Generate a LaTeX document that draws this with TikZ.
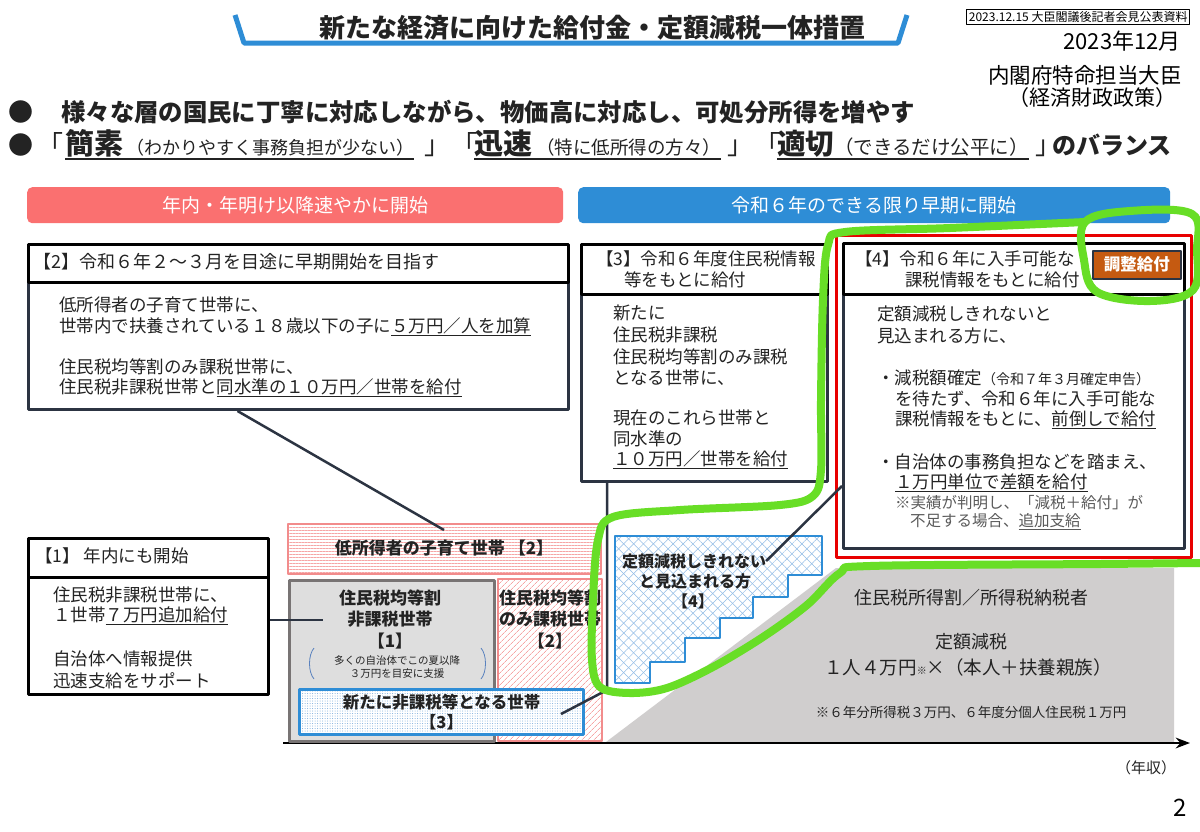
\documentclass[tikz,border=0pt]{standalone}
\usepackage{fontspec}
\setmainfont{Noto Sans CJK JP}
\usepackage{xcolor}
\usepackage{tikz}
\usetikzlibrary{arrows.meta,patterns.meta}
\definecolor{barblue}{RGB}{46,141,214}
\definecolor{barpink}{RGB}{250,112,112}
\definecolor{slate}{RGB}{44,52,66}
\definecolor{ink}{RGB}{35,35,35}
\definecolor{notegray}{RGB}{90,90,90}
\definecolor{pinkline}{RGB}{242,140,140}
\definecolor{pinkhatch}{RGB}{246,165,165}
\definecolor{fillgray}{RGB}{222,222,222}
\definecolor{edgegray}{RGB}{120,116,116}
\definecolor{areagray}{RGB}{208,206,206}
\definecolor{hatchblue}{RGB}{120,170,220}
\definecolor{stairblue}{RGB}{145,188,230}
\definecolor{bracketblue}{RGB}{90,130,190}
\definecolor{adjorange}{RGB}{197,90,17}
\definecolor{hlgreen}{RGB}{104,222,38}
\definecolor{framered}{RGB}{232,0,0}
\newcommand\jsz[1]{\fontsize{#1}{#1}\selectfont}

\begin{document}
\begin{tikzpicture}[x=1pt,y=-1pt,>=Stealth,line join=round,
  txt/.style={anchor=west,inner sep=0pt,text=ink,font=\jsz{17.5}},
  bal/.style={anchor=base west,inner sep=0pt,text=ink},
  headbox/.style={draw=black,line width=3pt,fill=white,anchor=north west},
  bodybox/.style={draw=slate,line width=3pt,fill=white,anchor=north west},
  bar/.style={rounded corners=5pt,text=white,anchor=north west,minimum height=36,font=\jsz{19}},
  link/.style={draw=slate,line width=2.5pt},
  uline/.style={draw=ink,line width=1.3pt},
  mid/.style={inner sep=0pt,text=ink,font=\jsz{17}\bfseries},
  marker/.style={draw=hlgreen,line width=8pt,line cap=round}]
  \fill[white] (0,0) rectangle (1200,831);
  \useasboundingbox (0,0) rectangle (1200,831);

  \draw[barblue,line width=5pt] (235,15) -- (244,43) -- (898,43) -- (907,15);
  \node[inner sep=0pt,text=ink,font=\jsz{26}\bfseries] (title) at (592,28) {新たな経済に向けた給付金・定額減税一体措置};
  \node[draw,line width=1pt,inner sep=2pt,anchor=north east,font=\jsz{12}] (pub) at (1190,9) {2023.12.15 大臣閣議後記者会見公表資料};
  \node[anchor=east,inner sep=0pt,font=\jsz{22}] (date) at (1181,41) {2023年12月};
  \node[anchor=east,inner sep=0pt,font=\jsz{21.5}] (minister) at (1182,75) {内閣府特命担当大臣};
  \node[anchor=east,inner sep=0pt,font=\jsz{21}] (office) at (1177,98) {（経済財政政策）};

  \node[txt,font=\jsz{25}] (dot1) at (8,112) {●};
  \node[txt,font=\jsz{24.4}\bfseries] (aim) at (61,112) {様々な層の国民に丁寧に対応しながら、物価高に対応し、可処分所得を増やす};
  \node[bal,font=\jsz{25}] (dot2) at (8,154) {●};
  \node[bal,font=\jsz{26}] (qa1) at (37,154) {「};
  \node[bal,font=\jsz{29}\bfseries] (simple) at (65,154) {簡素};
  \node[bal,font=\jsz{18}] (simplep) at (126,154) {（わかりやすく事務負担が少ない）};
  \node[bal,font=\jsz{26}] (qa2) at (424,154) {」};
  \node[bal,font=\jsz{26}] (qb1) at (451,154) {「};
  \node[bal,font=\jsz{29}\bfseries] (quick) at (474,154) {迅速};
  \node[bal,font=\jsz{18.5}] (quickp) at (536,154) {（特に低所得の方々）};
  \node[bal,font=\jsz{26}] (qb2) at (727,154) {」};
  \node[bal,font=\jsz{26}] (qc1) at (754,154) {「};
  \node[bal,font=\jsz{28.5}\bfseries] (fair) at (777,154) {適切};
  \node[bal,font=\jsz{19.5}] (fairp) at (834,154) {（できるだけ公平に）};
  \node[bal,font=\jsz{26}] (qc2) at (1035,154) {」};
  \node[bal,font=\jsz{24}\bfseries] (balance) at (1052,154) {のバランス};
  \draw[uline] ([yshift=-5pt]simple.base west) -- ([yshift=-5pt]simplep.base east);
  \draw[uline] ([yshift=-5pt]quick.base west) -- ([yshift=-5pt]quickp.base east);
  \draw[uline] ([yshift=-5pt]fair.base west) -- ([yshift=-5pt]fairp.base east);

  \node[bar,fill=barpink,minimum width=536] (barL) at (27,187) {年内・年明け以降速やかに開始};
  \node[bar,fill=barblue,minimum width=592] (barR) at (578,187) {令和６年のできる限り早期に開始};

  \node[bodybox,minimum width=540,minimum height=127] (b2) at (27,281) {};
  \node[headbox,minimum width=540,minimum height=38] (h2) at (27,243) {};
  \node[txt,font=\jsz{18}] (h2t) at (33,262) {【2】令和６年２～３月を目途に早期開始を目指す};
  \node[txt] (b2a) at (59,305) {低所得者の子育て世帯に、};
  \node[txt] (b2b) at (59,327) {世帯内で扶養されている１８歳以下の子に\underline{５万円／人を加算}};
  \node[txt] (b2c) at (59,367) {住民税均等割のみ課税世帯に、};
  \node[txt] (b2d) at (59,388) {住民税非課税世帯と\underline{同水準の１０万円／世帯を給付}};

  \node[bodybox,minimum width=246,minimum height=187] (b3) at (580,293) {};
  \node[headbox,minimum width=246,minimum height=50] (h3) at (580,243) {};
  \node[txt] (h3a) at (596,259) {【3】令和６年度住民税情報};
  \node[txt] (h3b) at (624,280) {等をもとに給付};
  \node[txt] (b3a) at (613,313) {新たに};
  \node[txt] (b3b) at (613,335) {住民税非課税};
  \node[txt] (b3c) at (613,357) {住民税均等割のみ課税};
  \node[txt] (b3d) at (613,378) {となる世帯に、};
  \node[txt] (b3e) at (613,418) {現在のこれら世帯と};
  \node[txt] (b3f) at (613,439) {同水準の};
  \node[txt] (b3g) at (613,460) {\underline{１０万円／世帯を給付}};

  \node[draw=framered,line width=2.5pt,minimum width=355,minimum height=322,anchor=north west] (f4) at (835,234) {};
  \node[bodybox,minimum width=341,minimum height=254] (b4) at (842,293) {};
  \node[headbox,minimum width=341,minimum height=51] (h4) at (842,242) {};
  \node[txt] (h4a) at (855,259) {【4】令和６年に入手可能な};
  \node[txt] (h4b) at (905,280) {課税情報をもとに給付};
  \node[fill=adjorange,draw=slate,line width=1.5pt,minimum width=88,minimum height=28,anchor=north west,text=white,font=\jsz{16.5}\bfseries] (adj) at (1092,250) {調整給付};
  \node[txt] (b4a) at (877,314) {定額減税しきれないと};
  \node[txt] (b4b) at (877,336) {見込まれる方に、};
  \node[txt] (b4c) at (877,378) {・減税額確定{\jsz{14}（令和７年３月確定申告）}};
  \node[txt] (b4d) at (895,399) {を待たず、令和６年に入手可能な};
  \node[txt] (b4e) at (895,420) {課税情報をもとに、\underline{前倒しで給付}};
  \node[txt] (b4f) at (877,462) {・自治体の事務負担などを踏まえ、};
  \node[txt] (b4g) at (895,483) {\underline{１万円単位で差額を給付}};
  \node[txt,text=notegray,font=\jsz{15.5}] (b4h) at (895,503) {※実績が判明し、「減税＋給付」が};
  \node[txt,text=notegray,font=\jsz{15.5}] (b4i) at (910,522) {不足する場合、\underline{追加支給}};

  \node[bodybox,draw=black,minimum width=240,minimum height=117] (b1) at (27,576) {};
  \node[headbox,minimum width=240,minimum height=39] (h1) at (27,537) {};
  \node[txt] (h1t) at (35,556) {【1】 年内にも開始};
  \node[txt] (b1a) at (53,595) {住民税非課税世帯に、};
  \node[txt] (b1b) at (53,616) {１世帯\underline{７万円追加給付}};
  \node[txt] (b1c) at (53,659) {自治体へ情報提供};
  \node[txt] (b1d) at (53,681) {迅速支給をサポート};

  \coordinate (ax0) at (283,743);
  \coordinate (ax1) at (1190,743);
  \fill[areagray] (606,742) -- (836,568) -- (1174,568) -- (1174,742) -- cycle;
  \draw[line width=2.5pt,->] (ax0) -- (ax1);
  \node[inner sep=0pt,text=ink,font=\jsz{18}] (payer) at (971,598) {住民税所得割／所得税納税者};
  \node[inner sep=0pt,text=ink,font=\jsz{18}] (flat) at (971,642) {定額減税};
  \node[inner sep=0pt,text=ink,font=\jsz{18.5}] (perhead) at (968,667) {１人４万円{\jsz{10}※}×（本人＋扶養親族）};
  \node[inner sep=0pt,text=ink,font=\jsz{13.5}] (note) at (971,712) {※６年分所得税３万円、６年度分個人住民税１万円};
  \node[inner sep=0pt,text=ink,font=\jsz{15}] (income) at (1146,768) {（年収）};
  \node[inner sep=0pt,font=\jsz{24}] (page) at (1180,808) {2};

  \node[draw=pinkline,line width=2pt,preaction={fill=white},pattern={Lines[angle=0,distance=3pt,line width=1pt]},pattern color=pinkhatch,minimum width=313,minimum height=50,anchor=north west,text=ink,font=\jsz{17}\bfseries] (kids) at (287,523) {低所得者の子育て世帯 【2】};
  \node[draw=edgegray,line width=3pt,fill=fillgray,minimum width=205,minimum height=161,anchor=north west] (exempt) at (288,579) {};
  \node[draw=pinkline,line width=2pt,preaction={fill=white},pattern={Lines[angle=45,distance=4pt,line width=0.8pt]},pattern color=pinkhatch,minimum width=104,minimum height=162,anchor=north west] (percap) at (498,579) {};
  \node[mid] (ex1) at (390,598) {住民税均等割};
  \node[mid] (ex2) at (390,619) {非課税世帯};
  \node[mid] (ex3) at (390,641) {【1】};
  \node[inner sep=0pt,text=ink,font=\jsz{10.5}] (ex4) at (397,661) {多くの自治体でこの夏以降};
  \node[inner sep=0pt,text=ink,font=\jsz{10.5}] (ex5) at (397,674) {３万円を目安に支援};
  \draw[bracketblue,line width=0.8pt] (314,648) .. controls (308,655) and (308,672) .. (314,679);
  \draw[bracketblue,line width=0.8pt] (481,648) .. controls (487,655) and (487,672) .. (481,679);
  \node[mid] (pc1) at (550,598) {住民税均等割};
  \node[mid] (pc2) at (550,619) {のみ課税世帯};
  \node[mid] (pc3) at (550,641) {【2】};
  \node[draw=barblue,line width=3pt,preaction={fill=white},pattern={Dots[distance=2.5pt,radius=0.5pt]},pattern color=hatchblue,minimum width=284,minimum height=45,anchor=north west,align=center,text=ink,font=\fontsize{16.5}{20}\selectfont\bfseries] (newly) at (298,688) {新たに非課税等となる世帯\\【3】};

  \draw[draw=barblue,line width=2.5pt,preaction={fill=white},preaction={pattern={Lines[angle=45,distance=7pt,line width=0.5pt]},pattern color=stairblue},pattern={Lines[angle=-45,distance=7pt,line width=0.5pt]},pattern color=stairblue]
    (615,536) -- (822,536) -- (822,575) -- (788,575) -- (788,597) -- (753,597) -- (753,618) -- (720,618) -- (720,638) -- (685,638) -- (685,662) -- (650,662) -- (650,683) -- (615,683) -- cycle;
  \node[inner sep=0pt,text=ink,font=\jsz{16}\bfseries] (st1) at (694,561) {定額減税しきれない};
  \node[inner sep=0pt,text=ink,font=\jsz{16}\bfseries] (st2) at (695,581) {と見込まれる方};
  \node[inner sep=0pt,text=ink,font=\jsz{16}\bfseries] (st3) at (693,601) {【4】};

  \coordinate (c1) at (323,620);
  \coordinate (c3) at (607,690);
  \coordinate (c4) at (842,486);
  \draw[link] ([xshift=-61pt]b2.south) -- ([yshift=-7pt]kids.north);
  \draw[link] (b1.east |- c1) -- (c1);
  \draw[link] (b3.south -| c3) -- (c3) -- ([xshift=-24pt,yshift=-2pt]newly.east);
  \draw[link] (c4) -- (st1.east);

  \draw[marker] plot[smooth,tension=0.55] coordinates {(1200,563) (1100,564) (870,566) (840,573) (807,605) (763,637) (713,667) (667,688) (630,693) (600,687) (592,660) (593,600) (598,540) (613,517) (680,510) (780,505) (813,496) (821,470) (821,400) (823,300) (828,245) (845,232) (950,228) (1085,222)};
  \draw[marker] plot[smooth cycle,tension=0.6] coordinates {(1085,222) (1084,260) (1097,292) (1150,301) (1193,290) (1197,250) (1192,214) (1130,211)};
\end{tikzpicture}
\end{document}
